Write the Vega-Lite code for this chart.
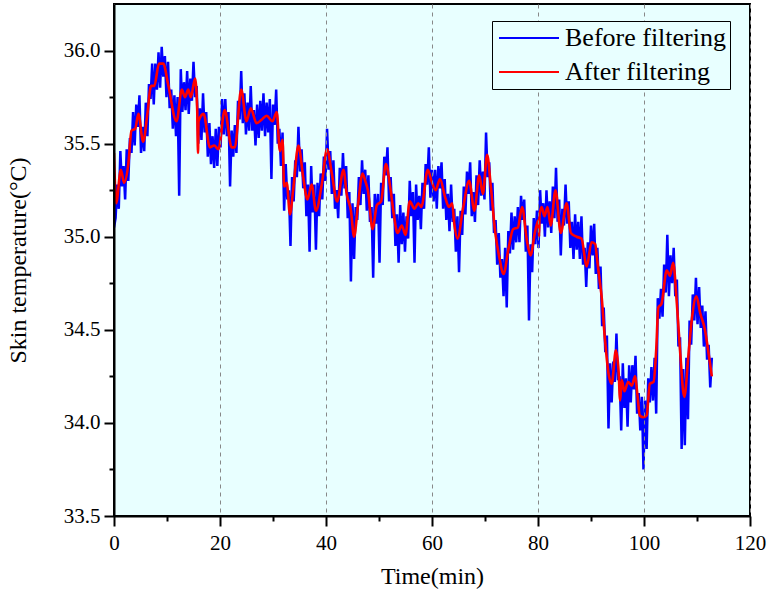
{
  "$schema": "https://vega.github.io/schema/vega-lite/v6.json",
  "width": 636,
  "height": 512,
  "autosize": {"type": "none"},
  "padding": {"left": 114, "top": 4, "right": 19, "bottom": 81},
  "background": "white",
  "config": {
    "font": "Liberation Serif",
    "view": {"fill": "#E8FFFF", "stroke": "black", "strokeWidth": 2},
    "axis": {"labelFont": "Liberation Serif", "titleFont": "Liberation Serif", "labelColor": "black", "titleColor": "black", "domainColor": "black", "tickColor": "black", "titleFontWeight": "normal"}
  },
  "datasets": {
    "raw": [
      {"t":0.0,"v":35.05},{"t":0.3,"v":35.10},{"t":0.6,"v":35.28},{"t":0.9,"v":35.15},{"t":1.2,"v":35.46},{"t":1.5,"v":35.27},{"t":1.8,"v":35.38},{"t":2.1,"v":35.20},{"t":2.4,"v":35.47},{"t":2.7,"v":35.30},
      {"t":3.0,"v":35.53},{"t":3.3,"v":35.45},{"t":3.6,"v":35.67},{"t":3.9,"v":35.49},{"t":4.2,"v":35.71},{"t":4.5,"v":35.59},{"t":4.8,"v":35.76},{"t":5.1,"v":35.45},{"t":5.4,"v":35.59},{"t":5.7,"v":35.46},
      {"t":6.0,"v":35.72},{"t":6.3,"v":35.54},{"t":6.6,"v":35.82},{"t":6.9,"v":35.74},{"t":7.2,"v":35.93},{"t":7.5,"v":35.71},{"t":7.8,"v":35.93},{"t":8.1,"v":35.79},{"t":8.4,"v":35.99},{"t":8.7,"v":35.80},
      {"t":9.0,"v":36.02},{"t":9.3,"v":35.86},{"t":9.6,"v":35.97},{"t":9.9,"v":35.75},{"t":10.2,"v":35.94},{"t":10.5,"v":35.69},{"t":10.8,"v":35.79},{"t":11.1,"v":35.58},{"t":11.4,"v":35.76},{"t":11.7,"v":35.54},
      {"t":12.0,"v":35.75},{"t":12.3,"v":35.22},{"t":12.6,"v":35.90},{"t":12.9,"v":35.67},{"t":13.2,"v":35.83},{"t":13.5,"v":35.68},{"t":13.8,"v":35.89},{"t":14.1,"v":35.66},{"t":14.4,"v":35.85},{"t":14.7,"v":35.73},
      {"t":15.0,"v":35.94},{"t":15.3,"v":35.75},{"t":15.6,"v":35.81},{"t":15.9,"v":35.50},{"t":16.2,"v":35.69},{"t":16.5,"v":35.52},{"t":16.8,"v":35.77},{"t":17.1,"v":35.56},{"t":17.4,"v":35.67},{"t":17.7,"v":35.43},
      {"t":18.0,"v":35.61},{"t":18.3,"v":35.39},{"t":18.6,"v":35.54},{"t":18.9,"v":35.37},{"t":19.2,"v":35.58},{"t":19.5,"v":35.38},{"t":19.8,"v":35.59},{"t":20.1,"v":35.48},{"t":20.4,"v":35.74},{"t":20.7,"v":35.55},
      {"t":21.0,"v":35.74},{"t":21.3,"v":35.54},{"t":21.6,"v":35.67},{"t":21.9,"v":35.27},{"t":22.2,"v":35.57},{"t":22.5,"v":35.43},{"t":22.8,"v":35.60},{"t":23.1,"v":35.45},{"t":23.4,"v":35.73},{"t":23.7,"v":35.63},
      {"t":24.0,"v":35.89},{"t":24.3,"v":35.61},{"t":24.6,"v":35.77},{"t":24.9,"v":35.55},{"t":25.2,"v":35.72},{"t":25.5,"v":35.57},{"t":25.8,"v":35.81},{"t":26.1,"v":35.57},{"t":26.4,"v":35.68},{"t":26.7,"v":35.49},
      {"t":27.0,"v":35.71},{"t":27.3,"v":35.53},{"t":27.6,"v":35.73},{"t":27.9,"v":35.57},{"t":28.2,"v":35.77},{"t":28.5,"v":35.54},{"t":28.8,"v":35.72},{"t":29.1,"v":35.56},{"t":29.4,"v":35.74},{"t":29.7,"v":35.31},
      {"t":30.0,"v":35.71},{"t":30.3,"v":35.60},{"t":30.6,"v":35.79},{"t":30.9,"v":35.50},{"t":31.2,"v":35.58},{"t":31.5,"v":35.38},{"t":31.8,"v":35.56},{"t":32.1,"v":35.14},{"t":32.4,"v":35.39},{"t":32.7,"v":35.20},
      {"t":33.0,"v":35.25},{"t":33.3,"v":34.95},{"t":33.6,"v":35.32},{"t":33.9,"v":35.19},{"t":34.2,"v":35.41},{"t":34.5,"v":35.32},{"t":34.8,"v":35.59},{"t":35.1,"v":35.35},{"t":35.4,"v":35.47},{"t":35.7,"v":35.26},
      {"t":36.0,"v":35.40},{"t":36.3,"v":35.11},{"t":36.6,"v":35.28},{"t":36.9,"v":34.92},{"t":37.2,"v":35.38},{"t":37.5,"v":35.13},{"t":37.8,"v":35.28},{"t":38.1,"v":34.93},{"t":38.4,"v":35.29},{"t":38.7,"v":35.11},
      {"t":39.0,"v":35.34},{"t":39.3,"v":35.20},{"t":39.6,"v":35.43},{"t":39.9,"v":35.30},{"t":40.2,"v":35.58},{"t":40.5,"v":35.36},{"t":40.8,"v":35.46},{"t":41.1,"v":35.23},{"t":41.4,"v":35.41},{"t":41.7,"v":35.15},
      {"t":42.0,"v":35.25},{"t":42.3,"v":35.10},{"t":42.6,"v":35.37},{"t":42.9,"v":35.22},{"t":43.2,"v":35.45},{"t":43.5,"v":35.26},{"t":43.8,"v":35.38},{"t":44.1,"v":35.10},{"t":44.4,"v":35.24},{"t":44.7,"v":34.76},
      {"t":45.0,"v":35.18},{"t":45.3,"v":34.88},{"t":45.6,"v":35.16},{"t":45.9,"v":35.09},{"t":46.2,"v":35.32},{"t":46.5,"v":35.17},{"t":46.8,"v":35.41},{"t":47.1,"v":35.23},{"t":47.4,"v":35.36},{"t":47.7,"v":35.14},
      {"t":48.0,"v":35.33},{"t":48.3,"v":35.08},{"t":48.6,"v":35.16},{"t":48.9,"v":34.78},{"t":49.2,"v":35.23},{"t":49.5,"v":35.07},{"t":49.8,"v":35.23},{"t":50.1,"v":34.86},{"t":50.4,"v":35.29},{"t":50.7,"v":35.17},
      {"t":51.0,"v":35.43},{"t":51.3,"v":35.33},{"t":51.6,"v":35.48},{"t":51.9,"v":35.19},{"t":52.2,"v":35.32},{"t":52.5,"v":35.10},{"t":52.8,"v":35.23},{"t":53.1,"v":34.95},{"t":53.4,"v":35.12},{"t":53.7,"v":34.86},
      {"t":54.0,"v":35.17},{"t":54.3,"v":34.96},{"t":54.6,"v":35.13},{"t":54.9,"v":34.92},{"t":55.2,"v":35.11},{"t":55.5,"v":34.99},{"t":55.8,"v":35.30},{"t":56.1,"v":35.11},{"t":56.4,"v":35.24},{"t":56.7,"v":34.86},
      {"t":57.0,"v":35.28},{"t":57.3,"v":35.09},{"t":57.6,"v":35.22},{"t":57.9,"v":35.04},{"t":58.2,"v":35.29},{"t":58.5,"v":35.15},{"t":58.8,"v":35.39},{"t":59.1,"v":35.28},{"t":59.4,"v":35.48},{"t":59.7,"v":35.21},
      {"t":60.0,"v":35.36},{"t":60.3,"v":35.19},{"t":60.6,"v":35.36},{"t":60.9,"v":35.15},{"t":61.2,"v":35.38},{"t":61.5,"v":35.26},{"t":61.8,"v":35.40},{"t":62.1,"v":35.15},{"t":62.4,"v":35.31},{"t":62.7,"v":35.09},
      {"t":63.0,"v":35.23},{"t":63.3,"v":35.03},{"t":63.6,"v":35.28},{"t":63.9,"v":35.08},{"t":64.2,"v":35.15},{"t":64.5,"v":34.92},{"t":64.8,"v":35.11},{"t":65.1,"v":34.81},{"t":65.4,"v":35.14},{"t":65.7,"v":35.01},
      {"t":66.0,"v":35.27},{"t":66.3,"v":35.12},{"t":66.6,"v":35.35},{"t":66.9,"v":35.23},{"t":67.2,"v":35.40},{"t":67.5,"v":35.11},{"t":67.8,"v":35.24},{"t":68.1,"v":35.08},{"t":68.4,"v":35.33},{"t":68.7,"v":35.17},
      {"t":69.0,"v":35.41},{"t":69.3,"v":35.22},{"t":69.6,"v":35.35},{"t":69.9,"v":35.20},{"t":70.2,"v":35.56},{"t":70.5,"v":35.32},{"t":70.8,"v":35.40},{"t":71.1,"v":35.14},{"t":71.4,"v":35.29},{"t":71.7,"v":35.02},
      {"t":72.0,"v":35.09},{"t":72.3,"v":34.85},{"t":72.6,"v":35.02},{"t":72.9,"v":34.78},{"t":73.2,"v":34.88},{"t":73.5,"v":34.68},{"t":73.8,"v":34.94},{"t":74.1,"v":34.62},{"t":74.4,"v":35.03},{"t":74.7,"v":34.91},
      {"t":75.0,"v":35.13},{"t":75.3,"v":34.93},{"t":75.6,"v":35.11},{"t":75.9,"v":34.97},{"t":76.2,"v":35.16},{"t":76.5,"v":34.97},{"t":76.8,"v":35.22},{"t":77.1,"v":35.09},{"t":77.4,"v":35.20},{"t":77.7,"v":34.92},
      {"t":78.0,"v":35.06},{"t":78.3,"v":34.55},{"t":78.6,"v":34.96},{"t":78.9,"v":34.81},{"t":79.2,"v":35.10},{"t":79.5,"v":34.96},{"t":79.8,"v":35.14},{"t":80.1,"v":34.94},{"t":80.4,"v":35.25},{"t":80.7,"v":35.07},
      {"t":81.0,"v":35.18},{"t":81.3,"v":35.00},{"t":81.6,"v":35.25},{"t":81.9,"v":35.05},{"t":82.2,"v":35.19},{"t":82.5,"v":35.02},{"t":82.8,"v":35.27},{"t":83.1,"v":35.10},{"t":83.4,"v":35.37},{"t":83.7,"v":35.08},
      {"t":84.0,"v":35.20},{"t":84.3,"v":34.90},{"t":84.6,"v":35.15},{"t":84.9,"v":35.06},{"t":85.2,"v":35.28},{"t":85.5,"v":35.07},{"t":85.8,"v":35.19},{"t":86.1,"v":34.94},{"t":86.4,"v":35.08},{"t":86.7,"v":34.88},
      {"t":87.0,"v":35.12},{"t":87.3,"v":34.93},{"t":87.6,"v":35.08},{"t":87.9,"v":34.88},{"t":88.2,"v":35.11},{"t":88.5,"v":34.85},{"t":88.8,"v":34.94},{"t":89.1,"v":34.73},{"t":89.4,"v":34.97},{"t":89.7,"v":34.83},
      {"t":90.0,"v":35.06},{"t":90.3,"v":34.90},{"t":90.6,"v":35.07},{"t":90.9,"v":34.80},{"t":91.2,"v":34.94},{"t":91.5,"v":34.72},{"t":91.8,"v":34.84},{"t":92.1,"v":34.52},{"t":92.4,"v":34.62},{"t":92.7,"v":34.38},
      {"t":93.0,"v":34.47},{"t":93.3,"v":33.97},{"t":93.6,"v":34.32},{"t":93.9,"v":34.11},{"t":94.2,"v":34.33},{"t":94.5,"v":34.22},{"t":94.8,"v":34.48},{"t":95.1,"v":34.23},{"t":95.4,"v":34.25},{"t":95.7,"v":33.96},
      {"t":96.0,"v":34.32},{"t":96.3,"v":34.08},{"t":96.6,"v":34.24},{"t":96.9,"v":33.98},{"t":97.2,"v":34.31},{"t":97.5,"v":34.11},{"t":97.8,"v":34.31},{"t":98.1,"v":34.18},{"t":98.4,"v":34.36},{"t":98.7,"v":34.05},
      {"t":99.0,"v":34.16},{"t":99.3,"v":33.96},{"t":99.6,"v":34.14},{"t":99.9,"v":33.75},{"t":100.2,"v":34.12},{"t":100.5,"v":33.86},{"t":100.8,"v":34.24},{"t":101.1,"v":34.11},{"t":101.4,"v":34.30},{"t":101.7,"v":34.12},
      {"t":102.0,"v":34.35},{"t":102.3,"v":34.05},{"t":102.6,"v":34.67},{"t":102.9,"v":34.56},{"t":103.2,"v":34.72},{"t":103.5,"v":34.57},{"t":103.8,"v":34.85},{"t":104.1,"v":34.70},{"t":104.4,"v":35.01},{"t":104.7,"v":34.68},
      {"t":105.0,"v":34.90},{"t":105.3,"v":34.75},{"t":105.6,"v":34.94},{"t":105.9,"v":34.68},{"t":106.2,"v":34.77},{"t":106.5,"v":34.41},{"t":106.8,"v":34.46},{"t":107.1,"v":33.86},{"t":107.4,"v":34.29},{"t":107.7,"v":33.88},
      {"t":108.0,"v":34.35},{"t":108.3,"v":34.02},{"t":108.6,"v":34.55},{"t":108.9,"v":34.42},{"t":109.2,"v":34.69},{"t":109.5,"v":34.55},{"t":109.8,"v":34.78},{"t":110.1,"v":34.53},{"t":110.4,"v":34.73},{"t":110.7,"v":34.51},
      {"t":111.0,"v":34.63},{"t":111.3,"v":34.41},{"t":111.6,"v":34.60},{"t":111.9,"v":34.34},{"t":112.2,"v":34.42},{"t":112.5,"v":34.19},{"t":112.8,"v":34.35}
    ],
    "filt": [
      {"t":0,"v":35.45},{"t":0.4,"v":35.18},{"t":1.3,"v":35.36},{"t":1.9,"v":35.29},{"t":2.7,"v":35.39},{"t":3.3,"v":35.57},{"t":4.0,"v":35.58},{"t":4.6,"v":35.66},{"t":5.5,"v":35.51},{"t":6.3,"v":35.66},
      {"t":7.0,"v":35.81},{"t":7.6,"v":35.81},{"t":8.5,"v":35.93},{"t":9.3,"v":35.93},{"t":10.2,"v":35.82},{"t":11.8,"v":35.62},{"t":12.8,"v":35.79},{"t":13.4,"v":35.75},{"t":14.0,"v":35.79},{"t":14.5,"v":35.75},
      {"t":15.3,"v":35.85},{"t":15.7,"v":35.68},{"t":15.85,"v":35.45},{"t":15.95,"v":35.62},{"t":16.9,"v":35.66},{"t":18.1,"v":35.48},{"t":18.9,"v":35.49},{"t":19.7,"v":35.47},{"t":20.9,"v":35.68},{"t":22.2,"v":35.48},
      {"t":22.8,"v":35.48},{"t":24.0,"v":35.79},{"t":25.0,"v":35.62},{"t":25.8,"v":35.69},{"t":26.9,"v":35.61},{"t":27.9,"v":35.63},{"t":28.8,"v":35.65},{"t":29.9,"v":35.62},{"t":30.7,"v":35.67},{"t":31.3,"v":35.46},
      {"t":31.8,"v":35.52},{"t":32.1,"v":35.27},{"t":32.6,"v":35.29},{"t":33.2,"v":35.12},{"t":33.8,"v":35.25},{"t":34.8,"v":35.49},{"t":35.7,"v":35.32},{"t":36.5,"v":35.20},{"t":37.3,"v":35.28},{"t":38.1,"v":35.14},
      {"t":39.2,"v":35.28},{"t":40.2,"v":35.47},{"t":41.1,"v":35.34},{"t":42.1,"v":35.19},{"t":43.3,"v":35.36},{"t":43.9,"v":35.23},{"t":44.7,"v":35.14},{"t":45.3,"v":35.00},{"t":46.0,"v":35.16},{"t":46.9,"v":35.34},
      {"t":47.4,"v":35.30},{"t":47.9,"v":35.25},{"t":48.8,"v":35.04},{"t":49.6,"v":35.17},{"t":50.4,"v":35.19},{"t":51.3,"v":35.39},{"t":52.1,"v":35.27},{"t":52.8,"v":35.12},{"t":53.5,"v":35.02},{"t":54.3,"v":35.06},
      {"t":55.0,"v":35.01},{"t":55.8,"v":35.19},{"t":56.7,"v":35.15},{"t":57.4,"v":35.18},{"t":58.0,"v":35.16},{"t":59.2,"v":35.36},{"t":59.9,"v":35.30},{"t":60.7,"v":35.25},{"t":61.5,"v":35.31},{"t":62.5,"v":35.21},
      {"t":63.2,"v":35.16},{"t":63.8,"v":35.18},{"t":64.2,"v":35.07},{"t":64.8,"v":34.99},{"t":65.9,"v":35.16},{"t":67.0,"v":35.30},{"t":68.0,"v":35.14},{"t":68.9,"v":35.33},{"t":69.6,"v":35.23},{"t":70.4,"v":35.44},
      {"t":71.1,"v":35.27},{"t":71.9,"v":35.03},{"t":72.7,"v":34.89},{"t":73.5,"v":34.80},{"t":74.4,"v":34.93},{"t":75.3,"v":35.04},{"t":76.2,"v":35.05},{"t":77.0,"v":35.16},{"t":77.9,"v":34.98},{"t":78.6,"v":34.90},
      {"t":79.4,"v":35.02},{"t":80.1,"v":35.09},{"t":80.2,"v":35.00},{"t":80.3,"v":35.12},{"t":80.7,"v":35.16},{"t":81.2,"v":35.11},{"t":81.8,"v":35.16},{"t":82.4,"v":35.06},{"t":83.3,"v":35.25},{"t":84.3,"v":35.02},
      {"t":85.4,"v":35.18},{"t":86.2,"v":35.02},{"t":87.3,"v":35.00},{"t":88.2,"v":34.99},{"t":89.2,"v":34.84},{"t":90.1,"v":34.97},{"t":90.8,"v":34.96},{"t":91.1,"v":34.89},{"t":91.7,"v":34.75},{"t":92.0,"v":34.68},
      {"t":92.6,"v":34.46},{"t":93.4,"v":34.25},{"t":93.9,"v":34.21},{"t":94.7,"v":34.39},{"t":95.2,"v":34.28},{"t":95.5,"v":34.12},{"t":95.8,"v":34.23},{"t":96.3,"v":34.17},{"t":97.0,"v":34.22},{"t":97.7,"v":34.20},
      {"t":98.3,"v":34.25},{"t":98.8,"v":34.14},{"t":99.2,"v":34.04},{"t":99.9,"v":34.03},{"t":100.5,"v":34.04},{"t":101.1,"v":34.21},{"t":101.8,"v":34.22},{"t":102.3,"v":34.39},{"t":102.7,"v":34.62},{"t":103.3,"v":34.64},
      {"t":104.3,"v":34.82},{"t":104.9,"v":34.79},{"t":105.5,"v":34.86},{"t":106.2,"v":34.64},{"t":106.8,"v":34.39},{"t":107.6,"v":34.14},{"t":108.4,"v":34.37},{"t":109.0,"v":34.55},{"t":109.9,"v":34.68},{"t":110.6,"v":34.59},
      {"t":111.5,"v":34.50},{"t":112.1,"v":34.39},{"t":112.8,"v":34.25}
    ]
  },
  "layer": [
    {
      "data": {"name": "raw"},
      "mark": {"type": "line", "strokeWidth": 2.5, "strokeJoin": "bevel", "clip": true},
      "encoding": {
        "x": {"field": "t", "type": "quantitative", "scale": {"domain": [0, 120], "nice": false, "zero": false},
          "axis": {"title": "Time(min)", "orient": "bottom", "zindex": 1, "values": [0, 20, 40, 60, 80, 100, 120], "grid": true, "gridDash": [4, 4], "gridColor": "#888888", "gridWidth": 1, "tickSize": 10, "tickWidth": 2, "domainWidth": 2, "labelFontSize": 21, "labelPadding": 6, "labelFlush": false, "titleFontSize": 24, "titlePadding": 11}},
        "y": {"field": "v", "type": "quantitative", "scale": {"domain": [33.5, 36.25], "nice": false, "zero": false},
          "axis": {"title": "Skin temperature(°C)", "orient": "left", "zindex": 1, "values": [33.5, 34, 34.5, 35, 35.5, 36], "format": ".1f", "grid": false, "tickSize": 10, "tickWidth": 2, "domainWidth": 2, "labelFontSize": 21, "labelPadding": 4, "labelFlush": false, "titleFontSize": 24, "titlePadding": 33}},
        "color": {"datum": "Before filtering", "type": "nominal",
          "scale": {"domain": ["Before filtering", "After filtering"], "range": ["#0000FF", "#FF0000"]},
          "legend": {"orient": "none", "legendX": 378, "legendY": 17, "title": null, "zindex": 2, "labelFont": "Liberation Serif", "labelFontSize": 26, "labelLimit": 400, "labelColor": "black", "symbolType": "M-1,0H5", "symbolSize": 400, "symbolStrokeWidth": 2, "strokeColor": "black", "fillColor": "#E8FFFF", "padding": 4, "rowPadding": 8, "labelOffset": 43}}
      }
    },
    {
      "data": {"name": "filt"},
      "mark": {"type": "line", "strokeWidth": 2.6, "interpolate": "monotone", "clip": true},
      "encoding": {
        "x": {"field": "t", "type": "quantitative",
          "axis": {"orient": "bottom", "values": [10, 30, 50, 70, 90, 110], "labels": false, "domain": false, "grid": false, "title": null, "tickSize": 5, "tickWidth": 2}},
        "y": {"field": "v", "type": "quantitative",
          "axis": {"orient": "left", "values": [33.75, 34.25, 34.75, 35.25, 35.75], "labels": false, "domain": false, "grid": false, "title": null, "tickSize": 5, "tickWidth": 2}},
        "color": {"datum": "After filtering", "type": "nominal"}
      }
    }
  ],
  "resolve": {"axis": {"x": "independent", "y": "independent"}}
}
